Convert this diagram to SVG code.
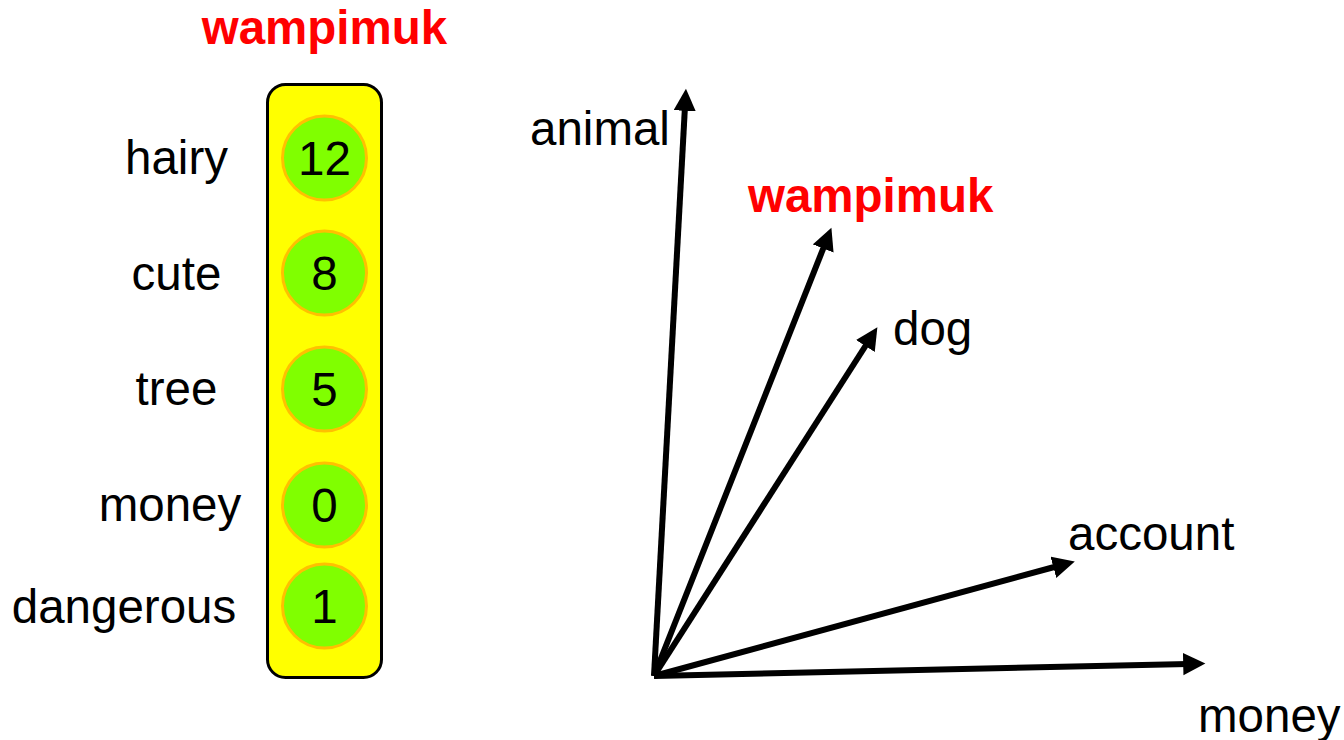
<svg xmlns="http://www.w3.org/2000/svg" width="1344" height="740" viewBox="0 0 1344 740">
<style>
.t{font-family:"Liberation Sans",Arial,sans-serif;font-size:47.5px;fill:#000}
.r{font-family:"Liberation Sans",Arial,sans-serif;font-size:47.5px;font-weight:bold;fill:#FF0000}
.c{fill:#80FF00;stroke:#FFC000;stroke-width:3}
.n{text-anchor:middle}
.a{stroke:#000;stroke-width:6;fill:none;marker-end:url(#ah)}
</style>
<defs>
<marker id="ah" markerWidth="4" markerHeight="4" refX="0.8" refY="1.85" orient="auto" markerUnits="strokeWidth">
<path d="M0,0 L3.7,1.85 L0,3.7 Z" fill="#000"/>
</marker>
</defs>
<rect width="1344" height="740" fill="#fff"/>
<text class="r n" x="324.5" y="44">wampimuk</text>
<g id="vector">
<rect x="267.5" y="84.5" width="114" height="593" rx="18" fill="#FFFF00" stroke="#000" stroke-width="3"/>
</g>
<g id="hairy"><circle class="c" cx="324.5" cy="158" r="42"/><text class="t n" x="324.5" y="175">12</text><text class="t n" x="176.5" y="174">hairy</text></g>
<g id="cute"><circle class="c" cx="324.5" cy="273" r="42"/><text class="t n" x="324.5" y="290">8</text><text class="t n" x="176.5" y="290">cute</text></g>
<g id="tree"><circle class="c" cx="324.5" cy="389" r="42"/><text class="t n" x="324.5" y="406">5</text><text class="t n" x="176.5" y="405">tree</text></g>
<g id="money"><circle class="c" cx="324.5" cy="505" r="42"/><text class="t n" x="324.5" y="522">0</text><text class="t n" x="170" y="521">money</text></g>
<g id="dangerous"><circle class="c" cx="324.5" cy="606" r="42"/><text class="t n" x="324.5" y="623">1</text><text class="t n" x="124" y="623">dangerous</text></g>
<g id="connectors">
<line class="a" x1="654" y1="676" x2="685" y2="106"/>
<line class="a" x1="654" y1="676" x2="825" y2="244"/>
<line class="a" x1="654" y1="676" x2="868" y2="342"/>
<line class="a" x1="654" y1="676" x2="1058" y2="566"/>
<line class="a" x1="654" y1="676" x2="1188" y2="664"/>
</g>
<g id="labels">
<text class="t" x="530" y="145">animal</text>
<text class="r" x="748" y="212">wampimuk</text>
<text class="t" x="893" y="345">dog</text>
<text class="t" x="1068" y="550">account</text>
<text class="t" x="1198" y="732">money</text>
</g>
</svg>
